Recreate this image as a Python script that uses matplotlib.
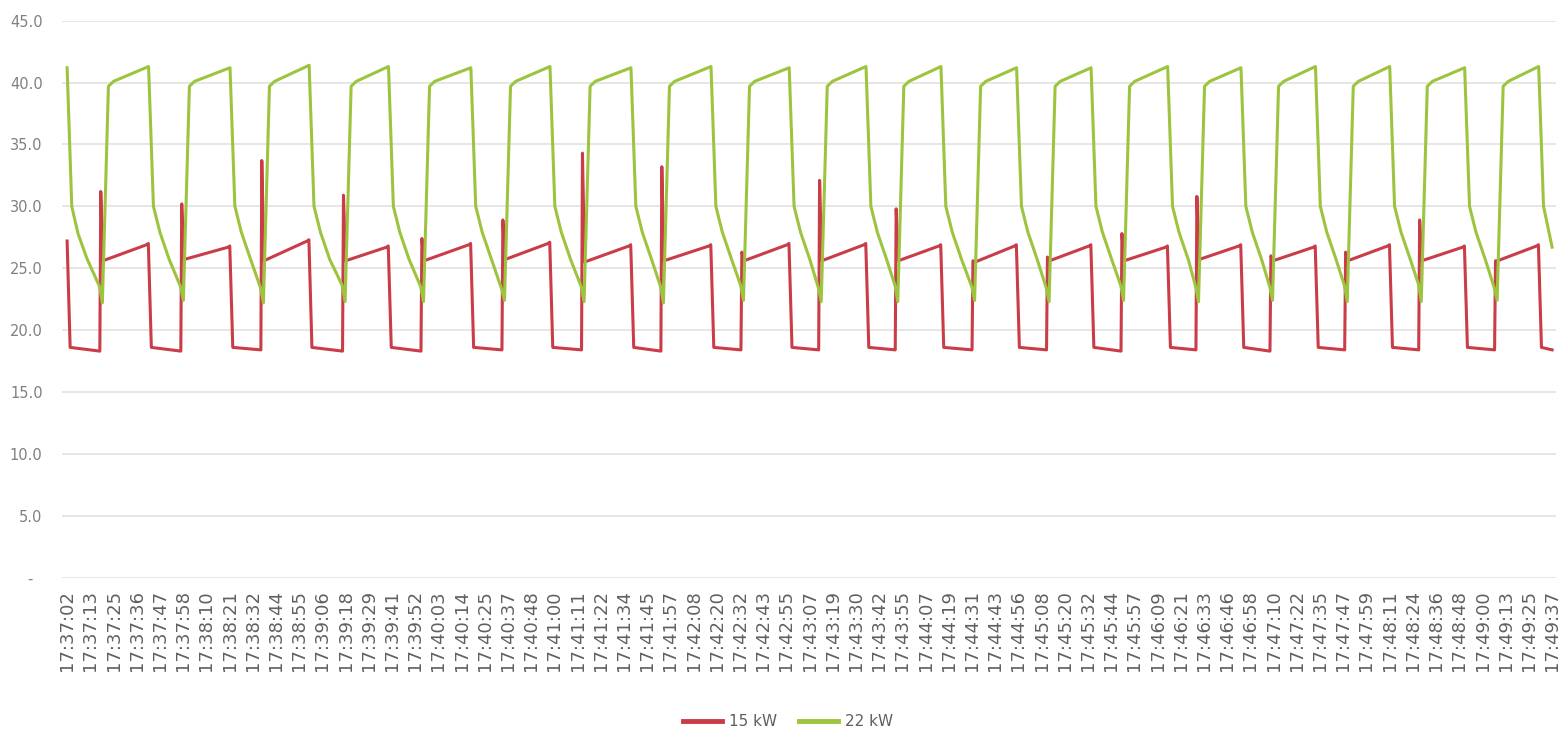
import numpy as np
import matplotlib.pyplot as plt

# category labels shown on the x axis (one per tick)
tick_labels = [
    "17:37:02", "17:37:13", "17:37:25", "17:37:36", "17:37:47", "17:37:58",
    "17:38:10", "17:38:21", "17:38:32", "17:38:44", "17:38:55", "17:39:06",
    "17:39:18", "17:39:29", "17:39:41", "17:39:52", "17:40:03", "17:40:14",
    "17:40:25", "17:40:37", "17:40:48", "17:41:00", "17:41:11", "17:41:22",
    "17:41:34", "17:41:45", "17:41:57", "17:42:08", "17:42:20", "17:42:32",
    "17:42:43", "17:42:55", "17:43:07", "17:43:19", "17:43:30", "17:43:42",
    "17:43:55", "17:44:07", "17:44:19", "17:44:31", "17:44:43", "17:44:56",
    "17:45:08", "17:45:20", "17:45:32", "17:45:44", "17:45:57", "17:46:09",
    "17:46:21", "17:46:33", "17:46:46", "17:46:58", "17:47:10", "17:47:22",
    "17:47:35", "17:47:47", "17:47:59", "17:48:11", "17:48:24", "17:48:36",
    "17:48:48", "17:49:00", "17:49:13", "17:49:25", "17:49:37",
]

# per cycle readings, x in tick units (0 = 17:37:02, 64 = 17:49:37)
rise_x = [1.45, 4.94, 8.39, 11.91, 15.29, 18.78, 22.21, 25.63, 29.08, 32.43,
          35.73, 39.04, 42.25, 45.46, 48.69, 51.88, 55.10, 58.29, 61.56]
drop_x = [3.55, 7.06, 10.47, 13.89, 17.44, 20.85, 24.34, 27.79, 31.16, 34.47,
          37.70, 40.96, 44.17, 47.47, 50.63, 53.84, 57.04, 60.27, 63.46]

# 15 kW (red)
red_spike = [31.2, 30.2, 33.7, 30.9, 27.4, 28.9, 34.3, 33.2, 26.3, 32.1,
             29.8, 25.6, 25.9, 27.8, 30.8, 26.0, 26.3, 28.9, 25.6]
red_start = [25.6, 25.7, 25.6, 25.6, 25.6, 25.7, 25.5, 25.6, 25.6, 25.6,
             25.6, 25.5, 25.6, 25.6, 25.7, 25.6, 25.6, 25.6, 25.6]
red_end = [27.0, 26.8, 27.3, 26.8, 27.0, 27.1, 26.9, 26.9, 27.0, 27.0,
           26.9, 26.9, 26.9, 26.8, 26.9, 26.8, 26.9, 26.8, 26.9]
red_low = [18.3, 18.3, 18.4, 18.3, 18.3, 18.4, 18.4, 18.3, 18.4, 18.4,
           18.4, 18.4, 18.4, 18.3, 18.4, 18.3, 18.4, 18.4, 18.4]

# 22 kW (green)
green_low = [23.5, 23.5, 23.4, 23.6, 23.5, 23.3, 23.5, 23.5, 23.6, 23.4,
             23.6, 23.5, 23.4, 23.6, 23.5, 23.5, 23.6, 23.7, 23.4]
green_dip = [22.2, 22.4, 22.2, 22.3, 22.3, 22.4, 22.3, 22.2, 22.4, 22.3,
             22.3, 22.4, 22.3, 22.4, 22.3, 22.4, 22.3, 22.3, 22.4]
green_peak = [41.3, 41.2, 41.4, 41.3, 41.2, 41.3, 41.2, 41.3, 41.2, 41.3,
              41.3, 41.2, 41.2, 41.3, 41.2, 41.3, 41.3, 41.2, 41.3]

RED = '#c93c48'
GREEN = '#9cc43e'

# build the polylines from the readings
red_x, red_y = [0.0, 0.13], [27.2, 18.6]
green_x, green_y = [0.0, 0.2, 0.47, 0.85], [41.2, 30.0, 27.8, 25.8]
n = len(rise_x)
for i in range(n):
    r, d = rise_x[i], drop_x[i]
    red_x += [r - 0.04, r, r + 0.09, d - 0.12, d - 0.05, d + 0.08]
    red_y += [red_low[i], red_spike[i], red_start[i], red_end[i] - 0.1, red_end[i], 18.6]
    green_x += [r - 0.05, r + 0.07, r + 0.33, r + 0.55, d - 0.04, d + 0.17]
    green_y += [green_low[i], green_dip[i], 39.7, 40.1, green_peak[i], 30.0]
    if i < n - 1:
        green_x += [d + 0.45, d + 0.85]
        green_y += [27.9, 25.7]
red_x += [64.0]
red_y += [18.4]
green_x += [64.0]
green_y += [26.7]

fig = plt.figure(figsize=(15.62, 7.35), dpi=100)
ax = fig.add_axes([0.0397, 0.2142, 0.9565, 0.7576])

ax.plot(red_x, red_y, color=RED, lw=2.2, label='15 kW', solid_joinstyle='round')
ax.plot(green_x, green_y, color=GREEN, lw=2.2, label='22 kW', solid_joinstyle='round')

ax.set_xlim(-0.22, 64.17)
ax.set_ylim(0, 45)
yt = np.arange(0, 46, 5)
ax.set_yticks(yt)
ax.set_yticklabels(['-  '] + ['%.1f' % v for v in yt[1:]])
ax.set_xticks(range(len(tick_labels)))
ax.set_xticklabels(tick_labels, rotation=90)

ax.grid(axis='y', color='#e6e6e6', lw=1.4)
ax.set_axisbelow(True)
for s in ax.spines.values():
    s.set_visible(False)
ax.tick_params(length=0)
ax.tick_params(axis='x', pad=9, labelsize=13, labelcolor='#606060')
ax.tick_params(axis='y', pad=14, labelsize=10.5, labelcolor='#808080')

leg = fig.legend(loc='center', bbox_to_anchor=(0.5045, 0.018), ncol=2,
                 frameon=False, fontsize=11, handlelength=2.6,
                 handletextpad=0.45, columnspacing=1.4)
for line in leg.get_lines():
    line.set_linewidth(3.5)
for t in leg.get_texts():
    t.set_color('#606060')

fig.savefig('out.png', dpi=100)
